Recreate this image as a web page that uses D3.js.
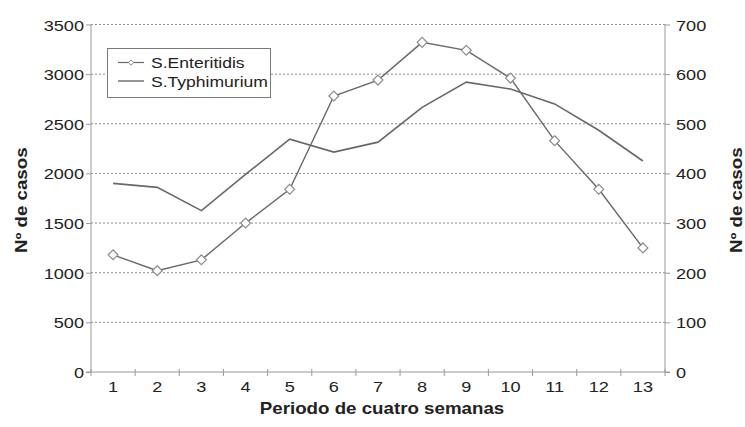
<!DOCTYPE html>
<html>
<head>
<meta charset="utf-8">
<script src="https://cdn.jsdelivr.net/npm/d3@7"></script>
<style>
  html, body { margin: 0; padding: 0; background: #ffffff; }
  svg { display: block; }
  text { font-family: "Liberation Sans", Arial, sans-serif; fill: #222; }
</style>
</head>
<body>
<script>
const periods = ["1","2","3","4","5","6","7","8","9","10","11","12","13"];
const enteritidis = [1180, 1020, 1130, 1500, 1840, 2780, 2940, 3320, 3240, 2960, 2330, 1840, 1250];
const typhimurium = [380, 372, 325, 398, 469, 443, 463, 533, 584, 570, 540, 487, 425];
const leftTicks = [0, 500, 1000, 1500, 2000, 2500, 3000, 3500];
const rightTicks = [0, 100, 200, 300, 400, 500, 600, 700];
const seriesNames = ["S.Enteritidis", "S.Typhimurium"];

const W = 745, H = 427;
const SX = 1.17; // horizontal stretch of the reference lettering
const svg = d3.select("body").append("svg").attr("width", W).attr("height", H);

const x0 = 91, x1 = 665, yTop = 24.5, yBot = 372;
const x = d3.scaleBand().domain(periods).range([x0, x1]).padding(0);
const yL = d3.scaleLinear().domain([0, 3500]).range([yBot, yTop]);
const yR = d3.scaleLinear().domain([0, 700]).range([yBot, yTop]);
const cx = d => x(d) + x.bandwidth() / 2;

// place text horizontally stretched at (px,py)
function stretched(sel, px, py, extra) {
  sel.attr("x", 0).attr("y", 0)
     .attr("transform", `translate(${px},${py})${extra || ""} scale(${SX},1)`);
}

const axisColor = "#9a9a9a";

// gridlines
svg.append("g").selectAll("line").data(leftTicks.filter(t => t > 0)).join("line")
  .attr("x1", x0).attr("x2", x1)
  .attr("y1", d => yL(d)).attr("y2", d => yL(d))
  .attr("stroke", "#8c8c8c").attr("stroke-width", 1).attr("stroke-dasharray", "2,2");

// left axis
const gL = svg.append("g").attr("transform", `translate(${x0},0)`)
  .call(d3.axisLeft(yL).tickValues(leftTicks).tickSize(5).tickFormat(d3.format("d")));
gL.select(".domain").attr("stroke", axisColor).attr("d", `M0,${yTop}V${yBot}`);
gL.selectAll(".tick line").attr("stroke", axisColor);
gL.selectAll(".tick text").style("font-size", "15.5px").attr("fill", "#222").attr("dy", null)
  .each(function() { stretched(d3.select(this), -7, 5.5); });

// right axis
const gR = svg.append("g").attr("transform", `translate(${x1},0)`)
  .call(d3.axisRight(yR).tickValues(rightTicks).tickSize(5).tickFormat(d3.format("d")));
gR.select(".domain").attr("stroke", axisColor).attr("d", `M0,${yTop}V${yBot}`);
gR.selectAll(".tick line").attr("stroke", axisColor);
gR.selectAll(".tick text").style("font-size", "15.5px").attr("fill", "#222").attr("dy", null)
  .each(function() { stretched(d3.select(this), 11, 5.5); });

// x axis
const gX = svg.append("g").attr("transform", `translate(0,${yBot})`);
gX.append("line").attr("x1", x0 - 5).attr("x2", x1 + 5).attr("y1", 0).attr("y2", 0).attr("stroke", axisColor);
const edges = periods.map(p => x(p)).concat([x1]);
gX.selectAll("line.tk").data(edges).join("line").attr("class", "tk")
  .attr("x1", d => d).attr("x2", d => d).attr("y1", -3).attr("y2", 4).attr("stroke", axisColor);
gX.selectAll("text").data(periods).join("text")
  .attr("text-anchor", "middle").style("font-size", "15.5px").text(d => d)
  .each(function(d) { stretched(d3.select(this), cx(d), 20); });

// axis titles
stretched(svg.append("text").attr("text-anchor", "middle")
  .style("font-size", "16px").style("font-weight", "bold").text("Periodo de cuatro semanas"),
  (x0 + x1) / 2 + 4, 414);
stretched(svg.append("text").attr("text-anchor", "middle")
  .style("font-size", "16px").style("font-weight", "bold").text("Nº de casos"),
  27, (yTop + yBot) / 2 + 2, " rotate(-90)");
stretched(svg.append("text").attr("text-anchor", "middle")
  .style("font-size", "16px").style("font-weight", "bold").text("Nº de casos"),
  742, (yTop + yBot) / 2 + 2, " rotate(-90)");

const lineColor = "#686868";

// Typhimurium (right axis)
svg.append("path").datum(typhimurium)
  .attr("d", d3.line().x((d, i) => cx(periods[i])).y(d => yR(d)))
  .attr("fill", "none").attr("stroke", lineColor).attr("stroke-width", 1.6);

// Enteritidis (left axis)
svg.append("path").datum(enteritidis)
  .attr("d", d3.line().x((d, i) => cx(periods[i])).y(d => yL(d)))
  .attr("fill", "none").attr("stroke", lineColor).attr("stroke-width", 1.4);

const diamond = d3.symbol().type(d3.symbolDiamond2).size(62);
svg.append("g").selectAll("path").data(enteritidis).join("path")
  .attr("transform", (d, i) => `translate(${cx(periods[i])},${yL(d)})`)
  .attr("d", diamond)
  .attr("fill", "#ffffff").attr("stroke", "#8a8a8a").attr("stroke-width", 1.2);

// legend
const lg = svg.append("g");
lg.append("rect").attr("x", 107.5).attr("y", 48.5).attr("width", 163).attr("height", 49)
  .attr("fill", "#ffffff").attr("stroke", "#7a7a7a").attr("stroke-width", 1);
const rows = [62.5, 81];
lg.append("line").attr("x1", 118).attr("x2", 144).attr("y1", rows[0]).attr("y2", rows[0])
  .attr("stroke", lineColor).attr("stroke-width", 1.2);
lg.append("path").attr("transform", `translate(131,${rows[0]})`)
  .attr("d", d3.symbol().type(d3.symbolDiamond2).size(18))
  .attr("fill", "#fff").attr("stroke", "#8a8a8a").attr("stroke-width", 1);
lg.append("line").attr("x1", 118).attr("x2", 144).attr("y1", rows[1]).attr("y2", rows[1])
  .attr("stroke", lineColor).attr("stroke-width", 1.4);
lg.selectAll("text").data(seriesNames).join("text")
  .style("font-size", "15px").text(d => d)
  .each(function(d, i) { stretched(d3.select(this), 151, rows[i] + 5.5); });
</script>
</body>
</html>
